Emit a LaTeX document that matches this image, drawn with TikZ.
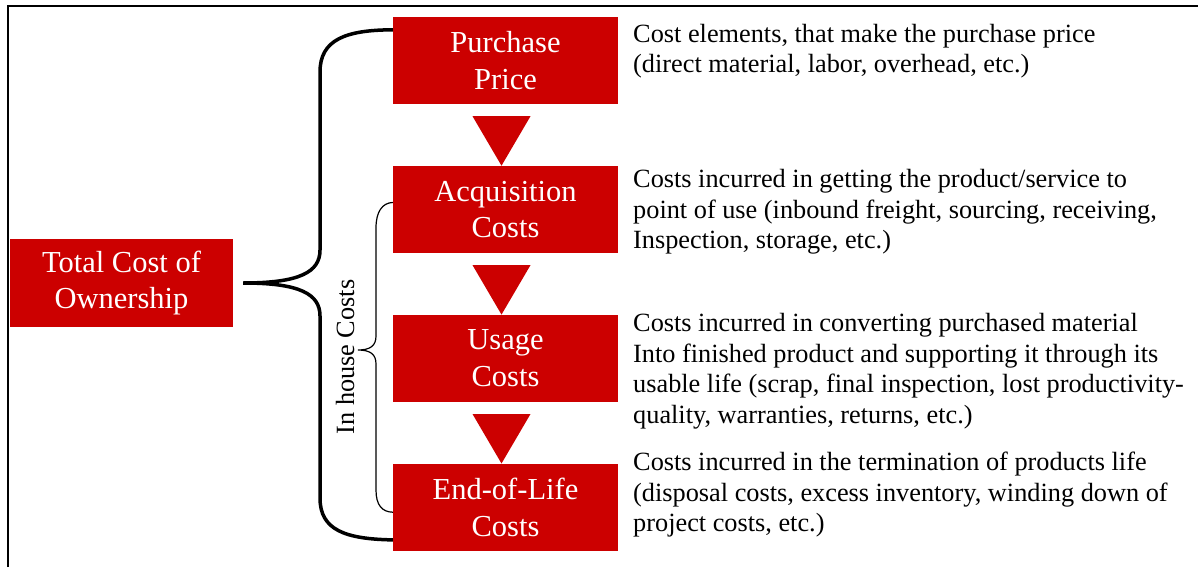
\documentclass[tikz,border=0pt]{standalone}
\usepackage{fontspec}
\setmainfont{Liberation Serif}
\usetikzlibrary{positioning,calc}
\definecolor{costred}{RGB}{204,0,0}

\begin{document}
\begin{tikzpicture}[x=1pt, y=-1pt,
  costbox/.style={fill=costred, text=white, minimum width=225pt, minimum height=87pt,
    inner sep=0pt, align=center, font=\fontsize{30.5}{36.5}\selectfont,
    execute at begin node=\rule{0pt}{33pt}},
  note/.style={anchor=north west, inner sep=0pt, align=left, font=\fontsize{26.3}{30.6}\selectfont}]
  \useasboundingbox (0,0) rectangle (1198,567);
  \draw[line width=1.5pt] (8,567) -- (8,6) -- (1198,6);
  % the cost boxes
  \node[costbox, minimum width=223pt, minimum height=88pt] (tco) at (121.5,283) {Total Cost of\\Ownership};
  \node[costbox] (pp) at (505.5,60.5) {Purchase\\Price};
  \node[costbox, below=61.5pt of pp] (ac) {Acquisition\\Costs};
  \node[costbox, below=61.5pt of ac] (us) {Usage\\Costs};
  \node[costbox, below=61.5pt of us] (eol) {End-of-Life\\Costs};
  \foreach \a/\b in {pp/ac,ac/us,us/eol}
    \fill[costred] ($(\a.south)+(-33,12)$) -- ($(\a.south)+(25,12)$) -- ($(\b.north)+(-4,0)$) -- cycle;
  % descriptions
  \node[note] (ppnote) at (633,23.7) {Cost elements, that make the purchase price\\(direct material, labor, overhead, etc.)};
  \node[note] (acnote) at (633,169) {Costs incurred in getting the product/service to\\point of use (inbound freight, sourcing, receiving,\\Inspection, storage, etc.)};
  \node[note] (usnote) at (633,313) {Costs incurred in converting purchased material\\Into finished product and supporting it through its\\usable life (scrap, final inspection, lost productivity-\\quality, warranties, returns, etc.)};
  \node[note] (eolnote) at (633,452) {Costs incurred in the termination of products life\\(disposal costs, excess inventory, winding down of\\project costs, etc.)};
  % braces
  \coordinate (tip) at ($(tco.east)+(10,0)$);
  \draw[line width=3.5pt] ($(pp.north west)+(0,13)$) .. controls (345,30) and (320,40) .. (320,72)
    -- (320,250) .. controls (320,272) and (300,283) .. (tip)
    .. controls (300,283) and (320,294) .. (320,316)
    -- (320,498) .. controls (320,530) and (345,539) .. ($(eol.south west)+(0,-11)$);
  \coordinate (intip) at (358,350);
  \draw[line width=1.2pt] ($(ac.west)+(0,-7)$) .. controls (382,203) and (376,212) .. (376,228)
    -- (376,336) .. controls (376,346) and (370,350) .. (intip)
    .. controls (370,350) and (376,354) .. (376,364)
    -- (376,490) .. controls (376,505) and (382,512) .. ($(eol.west)+(0,5)$);
  \node[rotate=90, font=\fontsize{26.3}{30}\selectfont] (inhouse) at (345,357) {In house Costs};
\end{tikzpicture}
\end{document}
